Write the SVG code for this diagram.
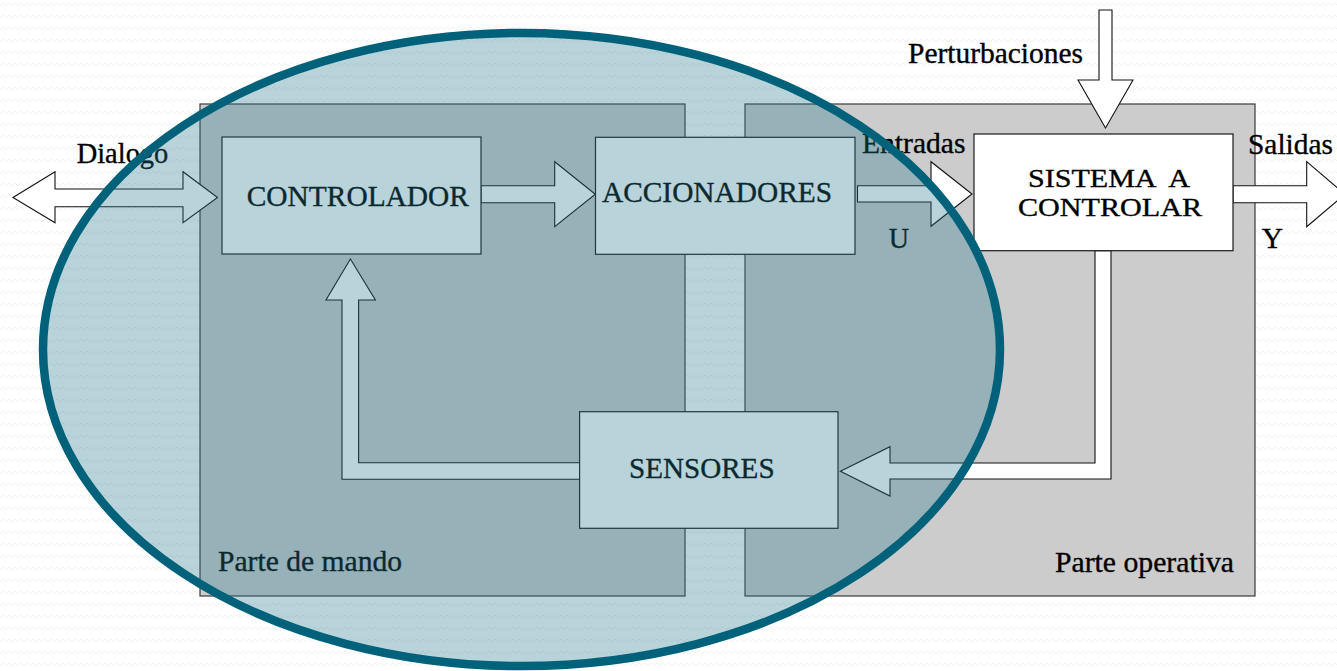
<svg xmlns="http://www.w3.org/2000/svg" width="1337" height="671" viewBox="0 0 1337 671">
  <defs>
    <style>
      .t { font-family: "Liberation Serif", "Times New Roman", serif; font-size: 29px; fill: #000; stroke: #000; stroke-width: 0.35; }
      .box { fill: #ffffff; stroke: #1a1a1a; stroke-width: 1.2; }
      .part { fill: #cccccc; stroke: #3a3a3a; stroke-width: 1.2; }
      .arr { fill: #ffffff; stroke: #111111; stroke-width: 1.1; stroke-linejoin: miter; }
    </style>
    <pattern id="zig" width="12" height="12" patternUnits="userSpaceOnUse">
      <path d="M0 6 L3 3 L6 6 L9 3 L12 6" fill="none" stroke="#f1f1f1" stroke-width="1"/>
    </pattern>
  </defs>

  <rect x="0" y="0" width="1337" height="671" fill="#ffffff"/>
  <rect x="0" y="0" width="1337" height="671" fill="url(#zig)"/>

  <g id="parte-de-mando">
    <rect class="part" x="200" y="104" width="485" height="492"/>
    <text class="t" x="218" y="570.7" textLength="184" lengthAdjust="spacingAndGlyphs">Parte de mando</text>
  </g>
  <g id="parte-operativa">
    <rect class="part" x="745" y="104" width="510" height="492"/>
    <text class="t" x="1055" y="571.7" textLength="179" lengthAdjust="spacingAndGlyphs">Parte operativa</text>
  </g>

  <g id="connectors">
    <polygon class="arr" points="13,197.5 55,171.7 55,189 183,189 183,171.7 217.5,197.5 183,222.7 183,206.7 55,206.7 55,222.7"/>
    <polygon class="arr" points="481,185.7 554.7,185.7 554.7,161.7 595.3,194.2 554.7,226.7 554.7,202.7 481,202.7"/>
    <polygon class="arr" points="857.5,185.7 931,185.7 931,161.7 972,194 931,226.3 931,202 857.5,202"/>
    <polygon class="arr" points="1099,10 1112,10 1112,80 1133,80 1105.5,128 1078,80 1099,80"/>
    <polygon class="arr" points="1233,185.7 1306.7,185.7 1306.7,161.7 1345,194.2 1306.7,226.7 1306.7,202.7 1233,202.7"/>
    <polygon class="arr" points="1095,250.7 1111,250.7 1111,479 890,479 890,496 840.4,471.3 890,446.7 890,463 1095,463"/>
    <polygon class="arr" points="579.6,462.7 358.6,462.7 358.6,300 375.4,300 350.4,259 326,300 342,300 342,479.3 579.6,479.3"/>
  </g>

  <g id="labels">
    <text class="t" x="76.7" y="163.3" textLength="91.6" lengthAdjust="spacingAndGlyphs">Dialogo</text>
    <text class="t" x="862" y="153.3" textLength="103.5" lengthAdjust="spacingAndGlyphs">Entradas</text>
    <text class="t" x="888.7" y="248.3" textLength="20.3" lengthAdjust="spacingAndGlyphs">U</text>
    <text class="t" x="908" y="63" textLength="175" lengthAdjust="spacingAndGlyphs">Perturbaciones</text>
    <text class="t" x="1248" y="154" textLength="85" lengthAdjust="spacingAndGlyphs">Salidas</text>
    <text class="t" x="1261.7" y="248.3" textLength="21.3" lengthAdjust="spacingAndGlyphs">Y</text>
  </g>

  <g id="controlador">
    <rect class="box" x="222" y="137" width="259" height="117"/>
    <text class="t" x="246.7" y="206" textLength="222.3" lengthAdjust="spacingAndGlyphs">CONTROLADOR</text>
  </g>
  <g id="accionadores">
    <rect class="box" x="595.5" y="137.3" width="259.5" height="117"/>
    <text class="t" x="602" y="201.7" textLength="230" lengthAdjust="spacingAndGlyphs">ACCIONADORES</text>
  </g>
  <g id="sistema-a-controlar">
    <rect class="box" x="974" y="134" width="259" height="116.7"/>
    <text class="t" x="1028" y="186.5" textLength="162" lengthAdjust="spacingAndGlyphs" style="white-space:pre;font-size:26px">SISTEMA  A</text>
    <text class="t" x="1018" y="215.5" textLength="184" lengthAdjust="spacingAndGlyphs" style="font-size:26px">CONTROLAR</text>
  </g>
  <g id="sensores">
    <rect class="box" x="579.6" y="411.7" width="258.4" height="116.6"/>
    <text class="t" x="629" y="477.7" textLength="145.6" lengthAdjust="spacingAndGlyphs">SENSORES</text>
  </g>

  <g id="zona-control">
    <ellipse cx="521.5" cy="349.5" rx="478.5" ry="316.5" fill="#28788c" fill-opacity="0.33"/>
    <ellipse cx="521.5" cy="349.5" rx="478.5" ry="316.5" fill="none" stroke="#00617b" stroke-width="8.5"/>
  </g>
</svg>
